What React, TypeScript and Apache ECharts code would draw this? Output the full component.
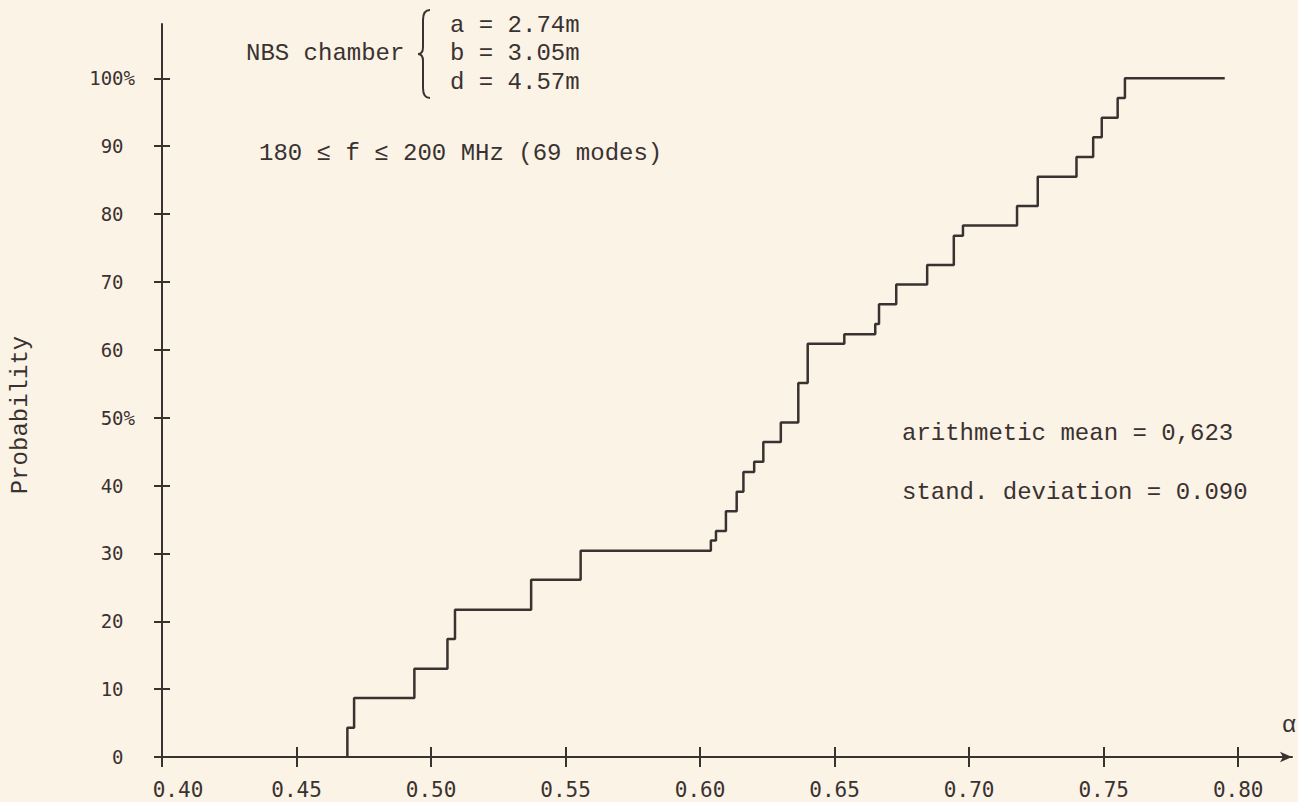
import React, { useEffect, useRef } from "react";
import * as echarts from "echarts";

// Cumulative distribution: alpha value at each jump and the probability (%) reached there
const alphaSteps = [0.4689, 0.4689, 0.4714, 0.4938, 0.5061, 0.5089, 0.5372, 0.5556, 0.6040, 0.6059, 0.6096, 0.6136, 0.6161, 0.6201, 0.6235, 0.6300, 0.6365, 0.6400, 0.6536, 0.6651, 0.6665, 0.6729, 0.6844, 0.6943, 0.6977, 0.7178, 0.7255, 0.7399, 0.7461, 0.7493, 0.7552, 0.7579, 0.7950];
const probSteps = [0, 4.3, 8.7, 13.0, 17.4, 21.7, 26.1, 30.4, 31.9, 33.3, 36.2, 39.1, 42.0, 43.5, 46.4, 49.3, 55.1, 60.9, 62.3, 63.8, 66.7, 69.6, 72.5, 76.8, 78.3, 81.2, 85.5, 88.4, 91.3, 94.2, 97.1, 100, 100];

const xTicks = [0.4, 0.45, 0.5, 0.55, 0.6, 0.65, 0.7, 0.75, 0.8];
const yTicks = [0, 10, 20, 30, 40, 50, 60, 70, 80, 90, 100];

const INK = "#3a3230";
const BG = "#fbf3e6";
const MONO = "'Liberation Mono', 'DejaVu Sans Mono', monospace";
const LABEL_FONT = "'DejaVu Sans Mono', monospace";

echarts.graphic.registerShape(
  "brace",
  echarts.graphic.extendPath(
    "M12,0 C7,0 5,3 5,10 L5,37 C5,42 3,44 0,44 C3,44 5,46 5,51 L5,78 C5,85 7,88 12,88",
    {}
  )
);

export default function App() {
  const ref = useRef<HTMLDivElement>(null);

  useEffect(() => {
    if (!ref.current) return;
    const chart = echarts.init(ref.current, undefined, { renderer: "svg" });
    const data = alphaSteps.map((a, i) => [a, probSteps[i]]);
    const textStyle = (text: string, x: number, y: number) => ({
      type: "text",
      x,
      y,
      style: {
        text,
        fill: INK,
        font: `24px ${MONO}`,
        textVerticalAlign: "middle",
        textAlign: "left",
      },
    });

    chart.setOption({
      animation: false,
      backgroundColor: BG,
      grid: { left: 162, right: 6, top: 24, bottom: 45 },
      xAxis: [
        {
          type: "value",
          min: 0.4,
          max: 0.82,
          interval: 0.05,
          axisLine: {
            show: true,
            lineStyle: { color: INK, width: 2 },
            symbol: ["none", "arrow"],
            symbolSize: [8, 12],
          },
          axisTick: {
            show: true,
            length: 10,
            lineStyle: { color: INK, width: 2 },
            customValues: xTicks,
          },
          axisLabel: {
            customValues: xTicks,
            margin: 22,
            color: INK,
            fontFamily: LABEL_FONT,
            fontSize: 21,
            formatter: (v: number) =>
              Math.abs(v - 0.4) < 1e-9 ? `{first|${v.toFixed(2)}}` : v.toFixed(2),
            rich: {
              first: {
                padding: [0, 0, 0, 32],
                color: INK,
                fontFamily: LABEL_FONT,
                fontSize: 21,
              },
            },
          },
          splitLine: { show: false },
        },
        {
          type: "value",
          min: 0.4,
          max: 0.82,
          interval: 0.05,
          position: "bottom",
          axisLine: { show: false },
          axisTick: {
            show: true,
            inside: true,
            length: 10,
            lineStyle: { color: INK, width: 2 },
            customValues: xTicks,
          },
          axisLabel: { show: false },
          splitLine: { show: false },
        },
      ],
      yAxis: [
        {
          type: "value",
          min: 0,
          max: 108,
          interval: 10,
          axisLine: { show: true, lineStyle: { color: INK, width: 2 } },
          axisTick: {
            show: true,
            length: 8,
            lineStyle: { color: INK, width: 2 },
            customValues: yTicks,
          },
          axisLabel: {
            customValues: yTicks,
            margin: 27,
            color: INK,
            fontFamily: LABEL_FONT,
            fontSize: 19,
            formatter: (v: number) => (v === 100 || v === 50 ? `${v}%` : `${v} `),
          },
          splitLine: { show: false },
        },
        {
          type: "value",
          min: 0,
          max: 108,
          interval: 10,
          position: "left",
          axisLine: { show: false },
          axisTick: {
            show: true,
            inside: true,
            length: 8,
            lineStyle: { color: INK, width: 2 },
            customValues: yTicks,
          },
          axisLabel: { show: false },
          splitLine: { show: false },
        },
      ],
      series: [
        {
          type: "line",
          step: "end",
          data,
          xAxisIndex: 0,
          yAxisIndex: 0,
          showSymbol: false,
          symbol: "none",
          lineStyle: { color: INK, width: 2.5 },
          silent: true,
        },
      ],
      graphic: [
        textStyle("NBS chamber", 246, 53),
        {
          type: "brace",
          x: 418,
          y: 10,
          scaleX: 1,
          scaleY: 1,
          style: { stroke: INK, lineWidth: 2, fill: "none" },
        },
        textStyle("a = 2.74m", 450, 25),
        textStyle("b = 3.05m", 450, 53),
        textStyle("d = 4.57m", 450, 82),
        textStyle("180 \u2264 f \u2264 200 MHz (69 modes)", 259, 153),
        textStyle("arithmetic mean = 0,623", 902, 433),
        textStyle("stand. deviation = 0.090", 902, 492),
        {
          type: "text",
          x: 1289,
          y: 725,
          style: {
            text: "\u03b1",
            fill: INK,
            font: `24px ${MONO}`,
            textAlign: "center",
            textVerticalAlign: "middle",
          },
        },
        {
          type: "text",
          x: 20,
          y: 415,
          rotation: Math.PI / 2,
          style: {
            text: "Probability",
            fill: INK,
            font: `24px ${MONO}`,
            textAlign: "center",
            textVerticalAlign: "middle",
          },
        },
      ],
    });
    return () => chart.dispose();
  }, []);

  return (
    <div
      ref={ref}
      style={{ position: "fixed", left: 0, top: 0, width: 1298, height: 802 }}
    />
  );
}
